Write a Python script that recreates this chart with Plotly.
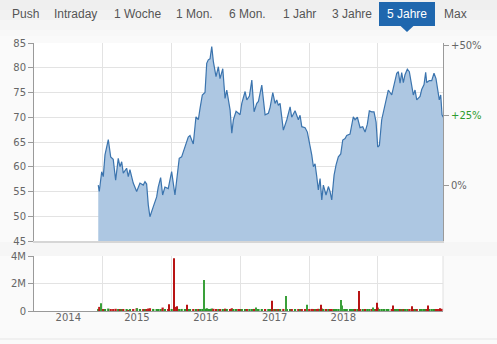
import datetime as dt
import plotly.graph_objects as go

W, H = 497, 344

# ---------------- data ----------------
# time in decimal years
t_price = [
    2014.935, 2014.950, 2014.985, 2015.008, 2015.033, 2015.081, 2015.116, 2015.153, 2015.188, 2015.226,
    2015.251, 2015.276, 2015.299, 2015.348, 2015.372, 2015.396, 2015.444, 2015.494, 2015.542, 2015.590,
    2015.615, 2015.639, 2015.663, 2015.687, 2015.735, 2015.785, 2015.808, 2015.843, 2015.872, 2015.905,
    2015.953, 2016.003, 2016.051, 2016.084, 2016.113, 2016.148, 2016.196, 2016.244, 2016.269, 2016.317,
    2016.356, 2016.390, 2016.415, 2016.448, 2016.487, 2016.512, 2016.535, 2016.560, 2016.585, 2016.608,
    2016.647, 2016.681, 2016.705, 2016.745, 2016.778, 2016.803, 2016.851, 2016.876, 2016.899, 2016.938,
    2016.972, 2016.996, 2017.021, 2017.069, 2017.094, 2017.132, 2017.167, 2017.200, 2017.239, 2017.263,
    2017.312, 2017.360, 2017.408, 2017.433, 2017.472, 2017.505, 2017.530, 2017.553, 2017.578, 2017.626,
    2017.676, 2017.724, 2017.748, 2017.796, 2017.844, 2017.869, 2017.894, 2017.942, 2017.975, 2018.004,
    2018.039, 2018.063, 2018.087, 2018.112, 2018.135, 2018.160, 2018.185, 2018.208, 2018.247, 2018.281,
    2018.305, 2018.330, 2018.364, 2018.393, 2018.426, 2018.461, 2018.490, 2018.524, 2018.548, 2018.596,
    2018.621, 2018.644, 2018.669, 2018.703, 2018.742, 2018.781, 2018.815, 2018.848, 2018.877, 2018.912,
    2018.945, 2018.975, 2018.999, 2019.023, 2019.057, 2019.091, 2019.130, 2019.153, 2019.203, 2019.226,
    2019.251, 2019.276, 2019.299, 2019.324, 2019.348, 2019.372, 2019.396, 2019.430, 2019.459, 2019.494,
    2019.517, 2019.542, 2019.567, 2019.615, 2019.639, 2019.673, 2019.697, 2019.712, 2019.750, 2019.785,
    2019.818, 2019.847, 2019.872, 2019.895, 2019.916, 2019.935, 2019.953,
]
price = [
    56.3, 55.0, 59.0, 58.0, 62.4, 65.5, 62.0, 61.5, 57.3, 61.7,
    60.0, 61.0, 58.7, 59.7, 58.0, 59.4, 56.7, 55.0, 56.7, 56.3,
    57.0, 56.5, 52.3, 49.9, 51.9, 53.9, 55.9, 57.8, 54.3, 55.9,
    55.6, 59.0, 54.3, 58.6, 61.7, 62.0, 64.0, 66.0, 66.3, 64.6,
    70.1, 69.5, 71.8, 74.5, 75.0, 80.9, 81.6, 81.8, 84.3, 81.3,
    78.2, 80.2, 77.8, 79.8, 73.8, 75.5, 71.5, 66.8, 69.5, 71.2,
    70.8, 70.5, 72.8, 75.2, 73.5, 74.3, 77.5, 71.1, 72.8, 73.2,
    76.5, 70.5, 70.8, 72.0, 75.0, 72.8, 73.5, 72.4, 72.8, 67.4,
    69.5, 72.1, 70.0, 71.3, 69.5, 70.4, 68.1, 67.9, 67.0, 65.1,
    62.4, 60.0, 60.6, 58.0, 55.3, 57.6, 53.3, 56.3, 54.3, 56.0,
    55.0, 53.3, 58.3, 60.4, 62.0, 62.6, 65.4, 65.7, 66.3, 66.6,
    68.8, 70.1, 69.5, 70.0, 67.9, 68.1, 67.0, 68.6, 71.3, 71.1,
    71.1, 69.0, 64.0, 64.3, 69.5, 71.5, 73.5, 75.5, 74.5, 75.9,
    76.9, 78.9, 79.2, 76.9, 79.0, 77.0, 78.6, 79.7, 79.2, 76.8,
    74.5, 75.5, 73.5, 74.2, 75.6, 76.6, 79.1, 77.0, 77.4, 77.4,
    78.9, 77.8, 75.9, 73.5, 74.5, 70.5, 70.0,
]
# everyday volume (thousands) at the same dates
vol_base_k = [
    150, 300, 120, 100, 140, 180, 90, 110, 160, 100,
    80, 120, 90, 100, 70, 110, 130, 200, 90, 80,
    100, 90, 180, 200, 150, 120, 110, 100, 250, 130,
    120, 140, 300, 160, 120, 150, 110, 130, 100, 120,
    140, 110, 130, 150, 120, 200, 150, 120, 180, 160,
    130, 110, 120, 100, 170, 110, 140, 200, 120, 100,
    90, 110, 100, 120, 90, 100, 130, 150, 90, 80,
    100, 140, 90, 80, 120, 100, 90, 110, 80, 150,
    110, 90, 80, 100, 90, 80, 110, 90, 100, 140,
    150, 130, 110, 120, 160, 100, 180, 120, 130, 100,
    110, 140, 120, 100, 90, 110, 100, 90, 80, 100,
    90, 110, 100, 80, 120, 90, 100, 90, 110, 80,
    90, 120, 250, 140, 120, 100, 110, 90, 100, 80,
    90, 100, 80, 110, 90, 100, 80, 90, 100, 130,
    120, 90, 110, 80, 90, 100, 110, 90, 80, 100,
    90, 100, 110, 120, 100, 160, 130,
]
# volume spikes (millions), 1 = up day, 0 = down day
spike_t = [2014.975, 2015.494, 2015.968, 2016.041, 2016.076, 2016.221, 2016.477, 2017.225,
           2017.466, 2017.670, 2017.967, 2018.170, 2018.461, 2018.484, 2018.732, 2018.935,
           2018.985, 2019.217, 2019.494, 2019.735, 2019.905]
spike_m = [0.56, 0.2, 0.5, 3.83, 0.35, 0.45, 2.25, 0.25,
           0.75, 1.1, 0.45, 0.45, 0.8, 0.4, 1.45, 0.25,
           0.6, 0.4, 0.35, 0.4, 0.2]
spike_up = [1, 1, 0, 0, 0, 0, 1, 1,
            0, 1, 1, 0, 1, 1, 0, 1,
            0, 0, 0, 0, 0]

year_labels = ["2014", "2015", "2016", "2017", "2018"]
buttons = ["Push", "Intraday", "1 Woche", "1 Mon.", "6 Mon.", "1 Jahr", "3 Jahre", "5 Jahre", "Max"]
selected = "5 Jahre"
price_ticks = [45, 50, 55, 60, 65, 70, 75, 80, 85]
pct_ticks = [0, 25, 50]
pct_text = ["0%", "+25%", "+50%"]
vol_ticks = [0, 2e6, 4e6]
vol_text = ["0", "2M", "4M"]


def to_date(y):
    yr = int(y)
    start = dt.datetime(yr, 1, 1)
    ndays = (dt.datetime(yr + 1, 1, 1) - start).days
    return start + dt.timedelta(days=(y - yr) * ndays)


dates = [to_date(v) for v in t_price]
sdates = [to_date(v) for v in spike_t]
base = price[0]

# ---------------- layout helpers ----------------
def px(x):
    return x / W


def py(y):
    return 1 - y / H


X0, X1 = px(34), px(443)
MAIN = [py(241), py(43)]
VOL = [py(311), py(256)]
GREEN, RED = "#2a962a", "#c01a1a"
GRID = "#e3e3e3"
TICKFONT = dict(family="DejaVu Sans", size=10, color="#666")

fig = go.Figure()

fig.add_trace(go.Scatter(
    x=dates, y=price, mode="lines", line=dict(color="#3b74ae", width=1.2),
    fill="tozeroy", fillcolor="#adc7e2", xaxis="x", yaxis="y", hoverinfo="skip"))
# percent scale (relative to the first price) so that the right axis is drawn
fig.add_trace(go.Scatter(
    x=dates, y=[(p / base - 1) * 100 for p in price], mode="lines",
    line=dict(width=0, color="rgba(0,0,0,0)"), xaxis="x", yaxis="y2", hoverinfo="skip"))

# baseline volume, coloured by direction
bcol = [GREEN if i == 0 or price[i] >= price[i - 1] else RED for i in range(len(price))]
fig.add_trace(go.Bar(
    x=dates, y=[v * 1000 for v in vol_base_k], marker=dict(color=bcol, line=dict(width=0)),
    width=12 * 86400000, xaxis="x2", yaxis="y3", hoverinfo="skip"))
scol = ["#3aa03a" if u else "#b81414" for u in spike_up]
fig.add_trace(go.Bar(
    x=sdates, y=[v * 1e6 for v in spike_m], marker=dict(color=scol, line=dict(width=0)),
    width=5 * 86400000, xaxis="x2", yaxis="y3", hoverinfo="skip"))

year_starts = [dt.datetime(y, 1, 1) for y in range(2015, 2020)]
mid_years = [dt.datetime(int(y), 7, 2) for y in year_labels]
xrange = [dt.datetime(2014, 1, 1), to_date(2019.949)]

minor = dict(tickmode="array", tickvals=year_starts, showgrid=True, gridcolor=GRID, ticks="")

pct_lo = (45 / base - 1) * 100
pct_hi = (85 / base - 1) * 100
pct_ticktext = [f'<span style="color:#2e9a2e">{t}</span>' if t == "+25%" else t for t in pct_text]

fig.update_layout(
    width=W, height=H, margin=dict(l=0, r=0, t=0, b=0, pad=0, autoexpand=False),
    paper_bgcolor="#fafafa", plot_bgcolor="#ffffff",
    showlegend=False, barmode="overlay",
    xaxis=dict(domain=[X0, X1], anchor="y", type="date", range=xrange,
               showticklabels=False, showgrid=False, ticks="", tickvals=[],
               minor=minor, showline=True, linecolor="#d6d6d6", linewidth=2, zeroline=False),
    yaxis=dict(domain=MAIN, anchor="x", range=[45, 85], tickvals=price_ticks,
               showgrid=True, gridcolor=GRID, showline=True, linecolor="#9a9a9a", linewidth=1,
               ticks="outside", ticklen=5, tickcolor="#9a9a9a", tickfont=TICKFONT, zeroline=False),
    yaxis2=dict(overlaying="y", anchor="x", side="right", range=[pct_lo, pct_hi],
                tickvals=pct_ticks, ticktext=pct_ticktext, showgrid=False,
                showline=True, linecolor="#9a9a9a", linewidth=1,
                ticks="outside", ticklen=5, tickcolor="#9a9a9a", tickfont=TICKFONT, zeroline=False),
    xaxis2=dict(domain=[X0, X1], anchor="y3", type="date", range=xrange,
                tickvals=mid_years, ticktext=year_labels, showgrid=False, ticks="",
                ticklabelstandoff=-3,
                minor=minor, showline=True, linecolor="#999", linewidth=1,
                tickfont=TICKFONT, zeroline=False),
    yaxis3=dict(domain=VOL, anchor="x2", range=[0, 4e6], tickvals=vol_ticks, ticktext=vol_text,
                showgrid=True, gridcolor=GRID, showline=True, linecolor="#9a9a9a", linewidth=1,
                ticks="outside", ticklen=5, tickcolor="#9a9a9a", tickfont=TICKFONT, zeroline=False),
)

shapes = []
# navigation bar background (soft gradient)
for (y0, y1, c) in [(0, 10, "#efefef"), (10, 20, "#f2f2f2"), (20, 30, "#f5f5f5"), (30, 36, "#f8f8f8")]:
    shapes.append(dict(type="rect", xref="paper", yref="paper", x0=0, x1=1, y0=py(y1), y1=py(y0),
                       fillcolor=c, line=dict(width=0), layer="below"))
# grey band between the two panels
shapes.append(dict(type="rect", xref="paper", yref="paper", x0=0, x1=1, y0=py(256), y1=py(242),
                   fillcolor="#f6f6f6", line=dict(width=0), layer="below"))
# right border of the volume panel
shapes.append(dict(type="line", xref="paper", yref="paper", x0=X1, x1=X1, y0=VOL[0], y1=VOL[1],
                   line=dict(color="#e0e0e0", width=1)))
# bottom separator
shapes.append(dict(type="line", xref="paper", yref="paper", x0=0, x1=1, y0=py(339), y1=py(339),
                   line=dict(color="#e6e6e6", width=1)))
# selected button and its pointer
shapes.append(dict(type="rect", xref="paper", yref="paper", x0=px(379), x1=px(435), y0=py(26), y1=py(2),
                   fillcolor="#1f67ae", line=dict(width=0)))
shapes.append(dict(type="path", xref="paper", yref="paper",
                   path=f"M {px(400)} {py(25.5)} L {px(414)} {py(25.5)} L {px(407)} {py(32)} Z",
                   fillcolor="#1f67ae", line=dict(width=0)))
fig.update_layout(shapes=shapes)

centers = [25, 75.5, 137, 194.5, 247.5, 299, 351.5, 407, 455]
ann = []
for name, cx in zip(buttons, centers):
    ann.append(dict(text=name, x=px(cx), y=py(14), xref="paper", yref="paper",
                    xanchor="center", yanchor="middle", showarrow=False,
                    font=dict(family="Liberation Sans", size=12,
                              color="#ffffff" if name == selected else "#555555")))
fig.update_layout(annotations=ann)

fig.write_html("out.html")
